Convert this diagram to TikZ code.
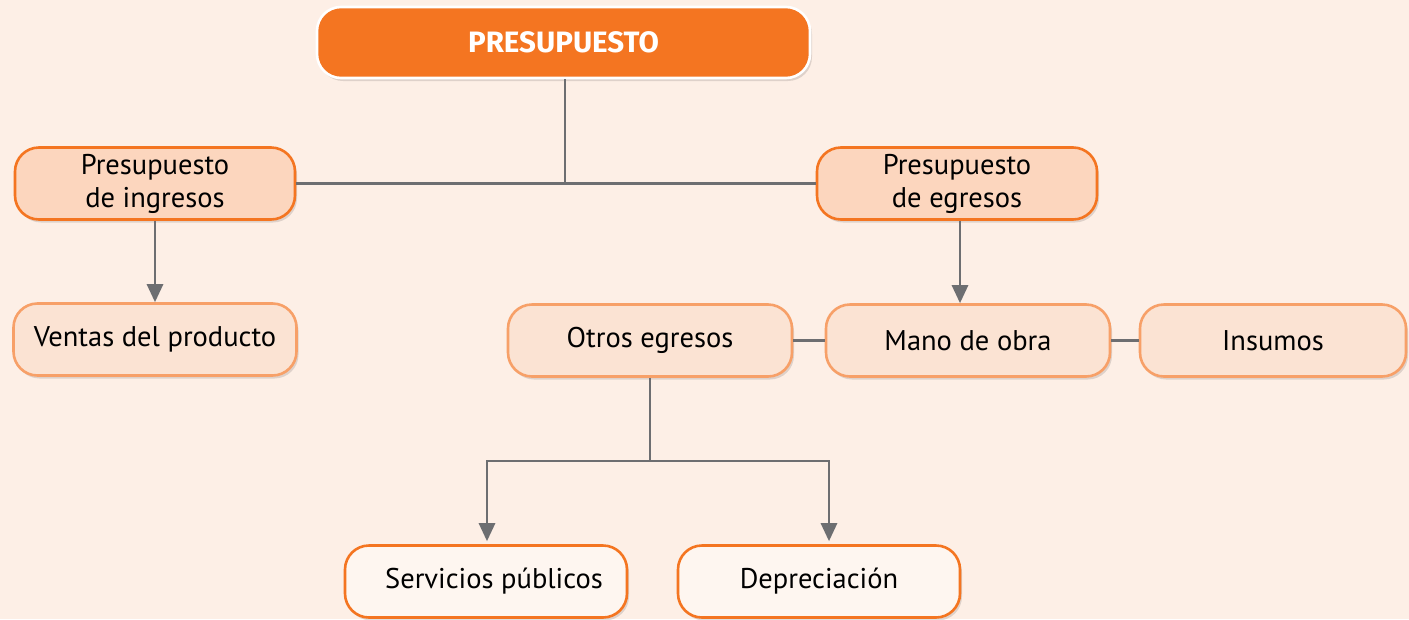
\documentclass[tikz,border=0pt]{standalone}
\usepackage{fontspec}
\setmainfont{PT Sans}
\newfontfamily\titlefont{Fira Sans}
\usetikzlibrary{arrows.meta,shadows}
\definecolor{bgc}{RGB}{253,239,230}
\definecolor{orangemain}{RGB}{244,117,33}
\definecolor{fillone}{RGB}{252,214,190}
\definecolor{filltwo}{RGB}{251,227,211}
\definecolor{bordertwo}{RGB}{247,160,104}
\definecolor{fillthree}{RGB}{254,246,240}
\definecolor{linegray}{RGB}{109,110,113}
\tikzset{
  box/.style={rounded corners=24pt, line width=2.6pt, minimum width=280pt, minimum height=72pt,
    align=center, font=\fontsize{28.5}{33}\selectfont, inner sep=0pt,
    drop shadow={shadow xshift=2pt, shadow yshift=-3pt, opacity=0.12, fill=black}},
  topbox/.style={box, fill=orangemain, draw=white, minimum width=493pt, minimum height=71pt,
    text=white, font=\titlefont\bfseries\fontsize{29.5}{30}\selectfont},
  lvlone/.style={box, fill=fillone, draw=orangemain},
  lvltwo/.style={box, fill=filltwo, draw=bordertwo},
  lvlthree/.style={box, fill=fillthree, draw=orangemain},
  conn/.style={draw=linegray, line width=2.8pt},
  arr/.style={conn, -{Triangle[width=16pt,length=18pt]}}
}
\begin{document}
\begin{tikzpicture}[x=1pt,y=1pt]
\fill[bgc] (0,0) rectangle (1409,-619);
\useasboundingbox (0,0) rectangle (1409,-619);
% nodes
\node[topbox] (top) at (563.5,-42.5) {PRESUPUESTO};
\node[lvlone] (ing) at (155,-183.5) {Presupuesto\\de ingresos};
\node[lvlone] (egr) at (957,-183.5) {Presupuesto\\de egresos};
\node[lvltwo, minimum width=283pt] (ven) at (155,-339.5) {Ventas del producto};
\node[lvltwo, minimum width=284pt] (otr) at (650,-340.5) {Otros egresos};
\node[lvltwo, minimum width=284pt] (man) at (968,-340.5) {Mano de obra};
\node[lvltwo, minimum width=266pt] (ins) at (1273,-340.5) {\raisebox{-7pt}{Insumos}};
\node[lvlthree, minimum width=282pt] (ser) at (486,-581.5) {\hspace{16pt}Servicios públicos};
\node[lvlthree, minimum width=282pt] (dep) at (819,-581.5) {Depreciación};
% connectors
\coordinate (j1) at (565,-182);
\coordinate (j2) at (650,-461);
\coordinate (ja) at (487,-461);
\coordinate (jb) at (829,-461);
\draw[conn] (top.south -| j1) -- (j1);
\draw[conn] (ing.east) -- (egr.west);
\draw[arr] (ing.south) -- (ven.north);
\draw[arr] (egr.south -| 960,0) -- (man.north -| 960,0);
\draw[conn] (otr.east) -- (man.west);
\draw[conn] (man.east) -- (ins.west);
\draw[conn] (otr.south) -- (j2);
\draw[arr] (j2) -- (ja) -- ([yshift=3pt]ser.north -| ja);
\draw[arr] (j2) -- (jb) -- ([yshift=3pt]dep.north -| jb);
\end{tikzpicture}
\end{document}
